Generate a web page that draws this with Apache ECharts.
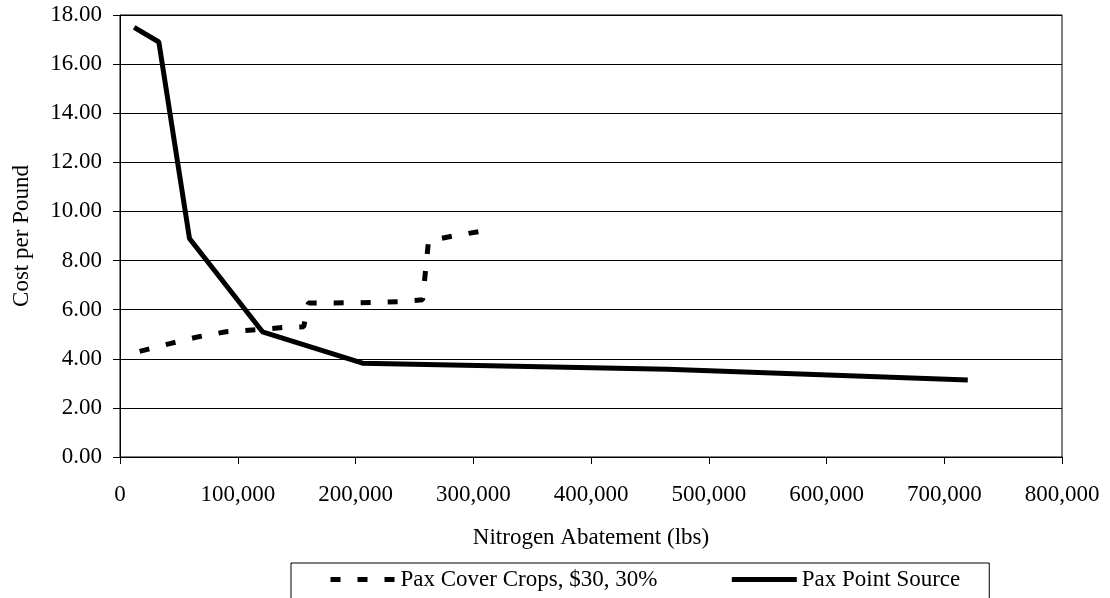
<!DOCTYPE html>
<html>
<head>
<meta charset="utf-8">
<script src="https://cdn.jsdelivr.net/npm/echarts@6/dist/echarts.min.js"></script>
<style>
  html, body { margin: 0; padding: 0; background: #fff; }
  #chart { width: 1110px; height: 598px; }
</style>
</head>
<body>
<div id="chart"></div>
<script>
// abatement (lbs) / cost per pound
var coverCropsX = [16700, 45000, 67000, 90000, 120000, 140000, 156000, 160000, 200000, 240000, 257000, 262000, 283000, 305000];
var coverCropsY = [4.30, 4.65, 4.90, 5.10, 5.20, 5.28, 5.30, 6.27, 6.28, 6.33, 6.40, 8.80, 9.00, 9.18];
var pointSourceX = [12000, 33000, 59000, 121000, 206000, 465000, 720000];
var pointSourceY = [17.5, 16.9, 8.9, 5.1, 3.82, 3.57, 3.14];

var seriesNames = ['Pax Cover Crops, $30, 30%', 'Pax Point Source'];

function pairs(xs, ys) {
  var out = [];
  for (var i = 0; i < xs.length; i++) out.push([xs[i], ys[i]]);
  return out;
}

var font = 'Liberation Serif, Times New Roman, serif';
var chart = echarts.init(document.getElementById('chart'));
chart.setOption({
  backgroundColor: '#fff',
  animation: false,
  grid: {
    left: 120, right: 48, top: 15, bottom: 141,
    show: true, borderColor: '#000', borderWidth: 1
  },
  legend: {
    left: 291, top: 563,
    padding: [5, 29, 20, 37],
    borderColor: '#000', borderWidth: 1,
    itemWidth: 65, itemHeight: 14, itemGap: 72,
    itemStyle: { opacity: 0 },
    lineStyle: { width: 5 },
    textStyle: { fontFamily: font, fontSize: 23, color: '#000' },
    data: seriesNames
  },
  xAxis: {
    type: 'value',
    min: 0, max: 800000, interval: 100000,
    name: 'Nitrogen Abatement (lbs)',
    nameLocation: 'middle',
    nameGap: 69,
    nameTextStyle: { fontFamily: font, fontSize: 23, color: '#000' },
    axisLine: { lineStyle: { color: '#000', width: 1 } },
    axisTick: { show: true, length: 7, lineStyle: { color: '#000' } },
    axisLabel: {
      margin: 26, fontFamily: font, fontSize: 23, color: '#000',
      formatter: function (v) { return v.toLocaleString('en-US'); }
    },
    splitLine: { show: false }
  },
  yAxis: {
    type: 'value',
    min: 0, max: 18, interval: 2,
    name: 'Cost per Pound',
    nameLocation: 'middle',
    nameGap: 87,
    nameTextStyle: { fontFamily: font, fontSize: 23, color: '#000' },
    axisLine: { show: true, lineStyle: { color: '#000', width: 1 } },
    axisTick: { show: true, length: 7, lineStyle: { color: '#000' } },
    axisLabel: {
      margin: 18, fontFamily: font, fontSize: 23, color: '#000',
      formatter: function (v) { return v.toFixed(2); }
    },
    splitLine: { show: true, lineStyle: { color: '#000', width: 1 } }
  },
  series: [
    {
      name: seriesNames[0],
      type: 'line',
      data: pairs(coverCropsX, coverCropsY),
      symbol: 'none',
      lineStyle: { color: '#000', width: 5, type: [10, 17], cap: 'butt' },
      itemStyle: { color: '#000' }
    },
    {
      name: seriesNames[1],
      type: 'line',
      data: pairs(pointSourceX, pointSourceY),
      symbol: 'none',
      lineStyle: { color: '#000', width: 5 },
      itemStyle: { color: '#000' }
    }
  ]
});
</script>
</body>
</html>
